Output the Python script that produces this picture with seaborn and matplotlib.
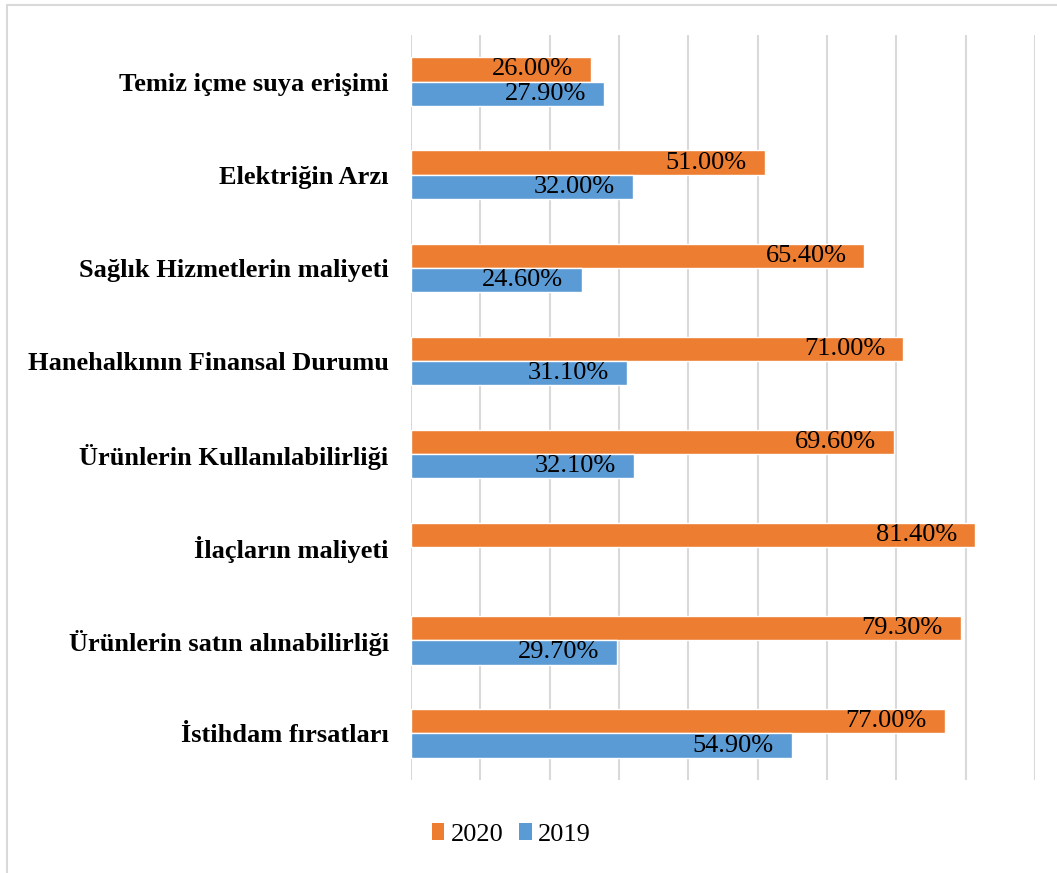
import numpy as np
import pandas as pd
import matplotlib
matplotlib.use("Agg")
import matplotlib.pyplot as plt
from matplotlib.lines import Line2D
from matplotlib.patches import Patch
import seaborn as sns

categories = [
    "Temiz içme suya erişimi",
    "Elektriğin Arzı",
    "Sağlık Hizmetlerin maliyeti",
    "Hanehalkının Finansal Durumu",
    "Ürünlerin Kullanılabilirliği",
    "İlaçların maliyeti",
    "Ürünlerin satın alınabilirliği",
    "İstihdam fırsatları",
]
values_2020 = [26.0, 51.0, 65.4, 71.0, 69.6, 81.4, 79.3, 77.0]
values_2019 = [27.9, 32.0, 24.6, 31.1, 32.1, np.nan, 29.7, 54.9]
years = ["2020", "2019"]
colors = {"2020": "#ED7D31", "2019": "#5B9BD5"}

rows = []
for cat, v20, v19 in zip(categories, values_2020, values_2019):
    rows.append({"kategori": cat, "yil": "2020", "oran": v20})
    if not np.isnan(v19):
        rows.append({"kategori": cat, "yil": "2019", "oran": v19})
df = pd.DataFrame(rows)

sns.set_style("white")
plt.rcParams["font.family"] = ["Liberation Serif", "DejaVu Serif"]
plt.rcParams["text.color"] = "black"
plt.rcParams["ytick.color"] = "black"

fig = plt.figure(figsize=(10.57, 8.73), dpi=100)
ax = fig.add_axes([0.3888, 0.1065, 0.5904, 0.8534])

sns.barplot(data=df, y="kategori", x="oran", hue="yil", order=categories,
            hue_order=years, palette=colors, orient="h", width=0.52,
            errorbar=None, ax=ax, legend=False, saturation=1)

ax.set_xlim(0, 90)
ax.set_ylim(7.5, -0.5)
ax.set_xticks(np.arange(0, 91, 10))
ax.set_xticklabels([])
ax.xaxis.grid(True, color="#D9D9D9", linewidth=1.5)
ax.set_axisbelow(True)
ax.tick_params(axis="both", length=0)
ax.tick_params(axis="y", pad=16, labelcolor="black")
for s in ax.spines.values():
    s.set_visible(False)
ax.set_xlabel("")
ax.set_ylabel("")
for lbl in ax.get_yticklabels():
    lbl.set_fontweight("bold")
    lbl.set_fontsize(19)

# value labels at the inside end of each bar
for cont in ax.containers:
    for bar, val in zip(cont.patches, cont.datavalues):
        if np.isnan(val) or bar.get_width() == 0:
            continue
        ax.annotate(f"{val:.2f}%",
                    (bar.get_x() + bar.get_width(), bar.get_y() + bar.get_height() / 2),
                    xytext=(-13, 0), textcoords="offset points",
                    ha="right", va="center", fontsize=19, color="black")

handles = [Patch(facecolor=colors[y], edgecolor="none", label=y) for y in years]
fig.legend(handles=handles, loc="center", bbox_to_anchor=(0.484, 0.044), ncol=2,
           frameon=False, fontsize=19, handlelength=0.46, handleheight=0.6,
           handletextpad=0.25, columnspacing=0.6)

# light frame along the top and left edges
fig.add_artist(Line2D([7 / 1057, 7 / 1057], [0, 1 - 5 / 873],
                      transform=fig.transFigure, color="#D9D9D9", linewidth=1.5))
fig.add_artist(Line2D([7 / 1057, 1], [1 - 5 / 873, 1 - 5 / 873],
                      transform=fig.transFigure, color="#D9D9D9", linewidth=1.5))

fig.savefig("out.png", dpi=100)
